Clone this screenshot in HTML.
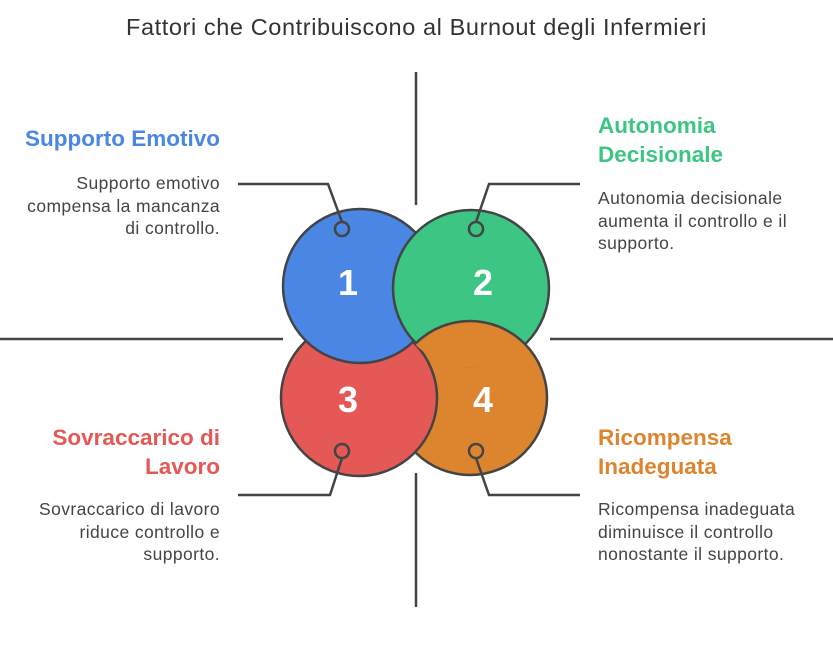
<!DOCTYPE html>
<html><head><style>
body{margin:0;width:833px;height:656px;background:#fff;font-family:"Liberation Sans",sans-serif;position:relative;overflow:hidden}
.t{position:absolute;white-space:nowrap}
.h{font-weight:bold;font-size:22.5px;line-height:29px}
.p{font-size:17.5px;line-height:22.5px;color:#444;letter-spacing:0.4px}
.l{right:613px;text-align:right}
.r{left:598px}
</style></head><body>
<svg width="833" height="656" style="position:absolute;left:0;top:0">
<defs><clipPath id="cg"><circle cx="471" cy="288" r="79.4"/></clipPath></defs>
<g stroke="#444" stroke-width="2.5" fill="none">
<line x1="416" y1="72" x2="416" y2="205"/><line x1="416" y1="473" x2="416" y2="607"/>
<line x1="0" y1="339" x2="283" y2="339"/><line x1="550" y1="339" x2="833" y2="339"/>
</g>
<g stroke="#444" stroke-width="2.5">
<circle cx="470" cy="398" r="77" fill="#DD842E"/>
<circle cx="359" cy="398" r="78" fill="#E45855"/>
<circle cx="360" cy="286" r="77" fill="#4A86E4"/>
<circle cx="471" cy="288" r="78" fill="#3CC583"/>
<circle cx="470" cy="398" r="77" fill="#DD842E" clip-path="url(#cg)"/>
</g>
<g stroke="#444" stroke-width="2.5" fill="none">
<polyline points="342,222 328,184 238,184"/><polyline points="476,222 489,184 580,184"/>
<polyline points="342,458 330,495 238,495"/><polyline points="476,458 489,495 580,495"/>
<circle cx="342" cy="229" r="7"/><circle cx="476" cy="229" r="7"/>
<circle cx="342" cy="451" r="7"/><circle cx="476" cy="451" r="7"/>
</g>
<g fill="#fff" font-family="Liberation Sans" font-weight="bold" font-size="36" text-anchor="middle">
<text x="348" y="295">1</text><text x="483" y="295">2</text>
<text x="348" y="412">3</text><text x="483" y="412">4</text>
</g>
</svg>
<div class="t" style="left:0;width:833px;text-align:center;top:14px;font-size:23.5px;letter-spacing:0.6px;color:#333">Fattori che Contribuiscono al Burnout degli Infermieri</div>
<div class="t h l" style="top:124px;color:#4A86E4">Supporto Emotivo</div>
<div class="t p l" style="top:172px">Supporto emotivo<br>compensa la mancanza<br>di controllo.</div>
<div class="t h r" style="top:111px;color:#3CC583">Autonomia<br>Decisionale</div>
<div class="t p r" style="top:187px">Autonomia decisionale<br>aumenta il controllo e il<br>supporto.</div>
<div class="t h l" style="top:423px;color:#E45855">Sovraccarico di<br>Lavoro</div>
<div class="t p l" style="top:498px">Sovraccarico di lavoro<br>riduce controllo e<br>supporto.</div>
<div class="t h r" style="top:423px;color:#DD842E">Ricompensa<br>Inadeguata</div>
<div class="t p r" style="top:498px">Ricompensa inadeguata<br>diminuisce il controllo<br>nonostante il supporto.</div>
</body></html>
